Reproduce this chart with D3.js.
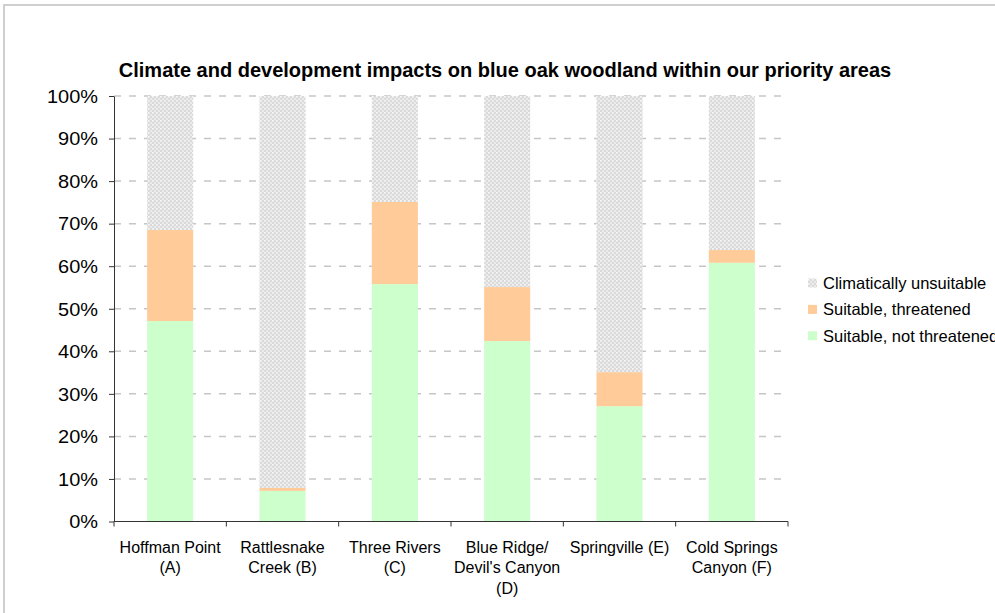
<!DOCTYPE html>
<html>
<head>
<meta charset="utf-8">
<script src="https://cdn.jsdelivr.net/npm/d3@7"></script>
<style>
  html, body { margin: 0; padding: 0; background: #fff; }
  svg { display: block; font-family: "Liberation Sans", Arial, sans-serif; }
</style>
</head>
<body>
<svg id="chart" width="995" height="613"></svg>
<script>
// Priority areas (line breaks marked with \n)
const categories = [
  "Hoffman Point\n(A)",
  "Rattlesnake\nCreek (B)",
  "Three Rivers\n(C)",
  "Blue Ridge/\nDevil's Canyon\n(D)",
  "Springville (E)",
  "Cold Springs\nCanyon (F)"
];

// Share of blue oak woodland in each class (fractions of 1)
const notThreatened = [0.471, 0.072, 0.558, 0.424, 0.271, 0.608];
const threatened    = [0.214, 0.007, 0.193, 0.127, 0.080, 0.030];
const unsuitable    = [0.315, 0.921, 0.249, 0.449, 0.649, 0.362];

const seriesNames = ["Suitable, not threatened", "Suitable, threatened", "Climatically unsuitable"];
const yTicks = [0, 0.1, 0.2, 0.3, 0.4, 0.5, 0.6, 0.7, 0.8, 0.9, 1.0];
const titleText = "Climate and development impacts on blue oak woodland within our priority areas";

const svg = d3.select("#chart");
const margin = { left: 114, right: 207, top: 96, bottom: 91.5 };
const W = 995, H = 613;

// Hatched fill for the unsuitable class
const defs = svg.append("defs");
const pat = defs.append("pattern")
  .attr("id", "unsuitPat")
  .attr("patternUnits", "userSpaceOnUse")
  .attr("width", 4).attr("height", 4);
pat.append("rect").attr("width", 4).attr("height", 4).attr("fill", "#dadada");
pat.append("rect").attr("x", 0).attr("y", 0).attr("width", 2).attr("height", 2).attr("fill", "#ebebeb");
pat.append("rect").attr("x", 2).attr("y", 2).attr("width", 2).attr("height", 2).attr("fill", "#ebebeb");
pat.append("rect").attr("x", 0).attr("y", 0).attr("width", 1).attr("height", 1).attr("fill", "#fafafa");

const fills = {
  "Suitable, not threatened": "#ccffcc",
  "Suitable, threatened": "#ffcc99",
  "Climatically unsuitable": "url(#unsuitPat)"
};

// Chart frame
svg.append("rect")
  .attr("x", 4).attr("y", 5)
  .attr("width", 1200).attr("height", 1200)
  .attr("fill", "none")
  .attr("stroke", "#cfcfcf")
  .attr("stroke-width", 2);

// Title
svg.append("text")
  .attr("x", 505).attr("y", 77)
  .attr("text-anchor", "middle")
  .attr("font-size", 20)
  .attr("font-weight", "bold")
  .attr("fill", "#000")
  .text(titleText);

const x = d3.scaleBand()
  .domain(categories)
  .range([margin.left, W - margin.right])
  .paddingInner(0.59)
  .paddingOuter(0.295);

const y = d3.scaleLinear()
  .domain([0, 1])
  .range([H - margin.bottom, margin.top]);

// Gridlines
svg.append("g")
  .selectAll("line")
  .data(yTicks.slice(1))
  .join("line")
  .attr("x1", margin.left).attr("x2", W - margin.right)
  .attr("y1", d => y(d)).attr("y2", d => y(d))
  .attr("stroke", "#c6c6c6")
  .attr("stroke-width", 1.5)
  .attr("stroke-dasharray", "7,8");

// Stack the three classes
const rows = categories.map((c, i) => ({
  cat: c,
  "Suitable, not threatened": notThreatened[i],
  "Suitable, threatened": threatened[i],
  "Climatically unsuitable": unsuitable[i]
}));
const stacked = d3.stack().keys(seriesNames)(rows);

svg.append("g")
  .selectAll("g")
  .data(stacked)
  .join("g")
  .attr("fill", s => fills[s.key])
  .selectAll("rect")
  .data(s => s)
  .join("rect")
  .attr("x", d => x(d.data.cat))
  .attr("width", x.bandwidth())
  .attr("y", d => y(d[1]))
  .attr("height", d => y(d[0]) - y(d[1]));

// Y axis
const yAxis = svg.append("g")
  .attr("transform", `translate(${margin.left},0)`)
  .call(d3.axisLeft(y).tickValues(yTicks).tickFormat(d3.format(".0%")).tickSize(5).tickSizeOuter(0));
yAxis.select(".domain").attr("stroke", "#333");
yAxis.selectAll(".tick line").attr("stroke", "#333");
yAxis.selectAll(".tick text")
  .attr("font-size", 17.5)
  .attr("font-family", "'Liberation Sans', Arial, sans-serif")
  .attr("fill", "#000")
  .attr("x", -16 / 1.14)
  .attr("dy", "0.36em")
  .attr("transform", "scale(1.14,1)");

// X axis: baseline, boundary ticks, wrapped category labels
const x0 = H - margin.bottom;
const xAxis = svg.append("g").attr("transform", `translate(0,${x0})`);
xAxis.append("line")
  .attr("x1", margin.left).attr("x2", W - margin.right)
  .attr("y1", 0).attr("y2", 0)
  .attr("stroke", "#333");
xAxis.selectAll("line.bnd")
  .data(d3.range(categories.length + 1))
  .join("line")
  .attr("class", "bnd")
  .attr("x1", i => x.range()[0] + i * x.step())
  .attr("x2", i => x.range()[0] + i * x.step())
  .attr("y1", 0).attr("y2", 5)
  .attr("stroke", "#333");

const lab = xAxis.selectAll("text.cat")
  .data(categories)
  .join("text")
  .attr("class", "cat")
  .attr("text-anchor", "middle")
  .attr("font-size", 16)
  .attr("fill", "#000")
  .attr("transform", d => `translate(${x(d) + x.bandwidth() / 2},0)`);
lab.selectAll("tspan")
  .data(d => d.split("\n"))
  .join("tspan")
  .attr("x", 0)
  .attr("y", (t, i) => 31 + i * 20.5)
  .text(t => t);

// Legend (top entry is the top of the stack)
const legendItems = seriesNames.slice().reverse();
const lg = svg.append("g").attr("transform", "translate(808,283)");
const li = lg.selectAll("g")
  .data(legendItems)
  .join("g")
  .attr("transform", (d, i) => `translate(0,${i * 26.4})`);
li.append("rect")
  .attr("x", 0).attr("y", -4.5)
  .attr("width", 9).attr("height", 9)
  .attr("fill", d => fills[d]);
li.append("text")
  .attr("x", 15).attr("y", 0)
  .attr("dy", "0.36em")
  .attr("font-size", 16.5)
  .attr("fill", "#000")
  .text(d => d);
</script>
</body>
</html>
